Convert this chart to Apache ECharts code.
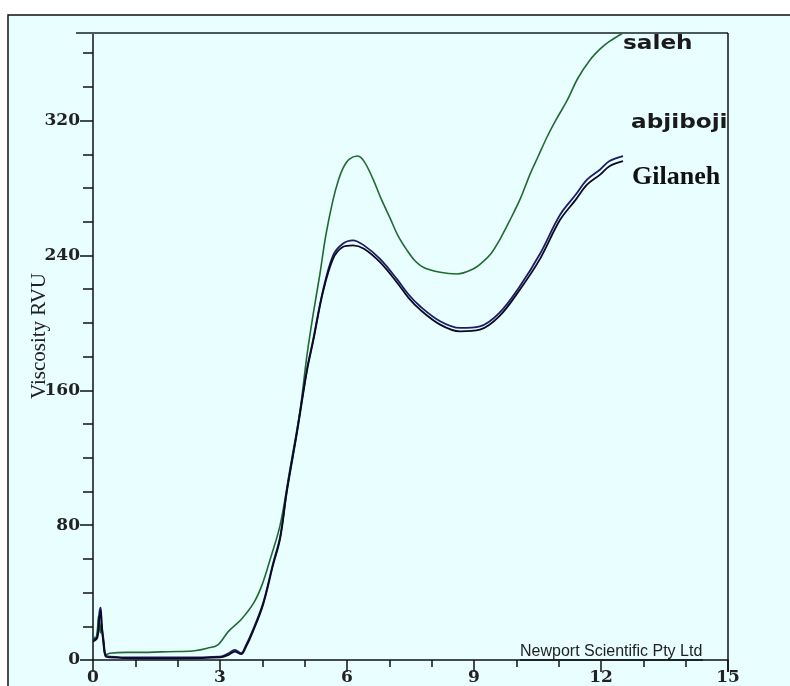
<!DOCTYPE html>
<html><head><meta charset="utf-8">
<script src="https://cdn.jsdelivr.net/npm/echarts@6/dist/echarts.min.js"></script>
<style>html,body{margin:0;padding:0;background:#fff}#c{width:790px;height:686px}</style>
</head><body><div id="c"></div>
<script>
// Time (min) / Viscosity (RVU)
const salehData = [[0,15],[0.05,12],[0.1,17],[0.13,26],[0.17,16],[0.2,22],[0.25,8],[0.3,3],[0.4,4],[0.8,4.5],[1.2,4.5],[1.6,4.8],[2,5],[2.4,5.5],[2.7,7],[2.95,9],[3.2,17],[3.5,24],[3.8,34],[4.0,45],[4.2,61],[4.42,80],[4.65,113],[4.89,148],[5.05,180],[5.2,205],[5.36,229],[5.5,252],[5.67,273],[5.8,285],[5.91,292],[6.05,297],[6.24,299],[6.4,296],[6.62,285],[6.8,274],[7.02,262],[7.2,252],[7.42,243],[7.6,237],[7.8,233],[8.2,230],[8.6,229],[8.98,232],[9.2,236],[9.4,241],[9.6,249],[9.85,261],[10.1,274],[10.32,288],[10.52,299],[10.72,310],[10.95,321],[11.2,332],[11.45,345],[11.74,356],[12.0,363],[12.2,367],[12.52,372]];
const abjibojiData = [[0,12],[0.1,14],[0.15,28],[0.18,31],[0.21,20],[0.25,12],[0.3,3],[0.4,2],[1,1.5],[2,1.5],[3,2],[3.2,4],[3.35,6],[3.5,4],[3.6,8],[3.78,18],[4.02,34],[4.25,57],[4.42,73],[4.58,101],[4.82,136],[5.05,172],[5.2,190],[5.43,219],[5.67,240],[5.9,247],[6.14,249],[6.4,246],[6.78,238],[7.18,226],[7.45,217],[7.72,210],[8.2,201],[8.67,197],[9.14,198],[9.6,206],[10.09,222],[10.56,241],[11.03,264],[11.4,276],[11.67,285],[11.98,291],[12.2,296],[12.52,299]];
const gilanehData = [[0,11],[0.1,13],[0.15,25],[0.18,29],[0.21,18],[0.25,10],[0.3,2],[0.4,1.5],[1,1],[2,1],[3,1.5],[3.2,3],[3.35,5],[3.5,3.5],[3.6,7],[3.78,17],[4.02,33],[4.25,56],[4.42,72],[4.58,100],[4.82,135],[5.05,171],[5.2,189],[5.43,218],[5.67,238],[5.9,245],[6.14,246],[6.4,244],[6.78,236],[7.18,224],[7.45,215],[7.72,208],[8.2,199],[8.67,195],[9.14,196],[9.6,204],[10.09,220],[10.56,238],[11.03,261],[11.4,273],[11.67,282],[11.98,288],[12.2,293],[12.52,296]];
const xMajorTicks = [0,3,6,9,12,15];
const yMajorTicks = [0,80,160,240,320];
const seriesNames = ['saleh','abjiboji','Gilaneh'];

const chart = echarts.init(document.getElementById('c'), null, {renderer:'canvas'});
const tickFont = {fontFamily:'DejaVu Serif', fontWeight:'bold', fontSize:17, color:'#222'};
chart.setOption({
  backgroundColor:'#fff',
  animation:false,
  graphic:[
    {type:'rect', shape:{x:8,y:15,width:790,height:680}, style:{fill:'#E9FEFE', stroke:'#111', lineWidth:1.5}, z:-10},
    {type:'text', x:623, y:44, scaleX:1.22, style:{text:seriesNames[0], x:0, y:0, verticalAlign:'middle', font:'bold 19px "DejaVu Sans"', fill:'#1a1a1a', letterSpacing:1}, z:10},
    {type:'text', x:631, y:123, scaleX:1.22, style:{text:seriesNames[1], x:0, y:0, verticalAlign:'middle', font:'bold 19px "DejaVu Sans"', fill:'#1a1a1a', letterSpacing:1}, z:10},
    {type:'text', x:632, y:177, style:{text:seriesNames[2], x:0, y:0, verticalAlign:'middle', font:'bold 26px "Liberation Serif"', fill:'#111'}, z:10},
    {type:'text', x:520, y:652, style:{text:'Newport Scientific Pty Ltd', x:0, y:0, verticalAlign:'middle', font:'16px "Liberation Sans"', fill:'#222'}, z:10},
    {type:'line', shape:{x1:520,y1:660,x2:703,y2:660}, style:{stroke:'#222', lineWidth:2}, z:10},
    {type:'line', shape:{x1:76,y1:33,x2:728,y2:33}, style:{stroke:'#4a5a5a', lineWidth:2}, z:10},
    {type:'line', shape:{x1:728,y1:33,x2:728,y2:672}, style:{stroke:'#111', lineWidth:1.5}, z:10},
    {type:'text', x:39, y:336, rotation:Math.PI/2,
     style:{text:'Viscosity RVU', x:0, y:0, align:'center', verticalAlign:'middle', font:'21px "Liberation Serif"', fill:'#222'}, z:10}
  ],
  grid:{left:93, right:62, top:33, bottom:26, show:false},
  xAxis:[
    {type:'value', min:0, max:15, interval:3, position:'bottom',
     axisLine:{lineStyle:{color:'#111', width:1.5}},
     axisTick:{length:12, lineStyle:{color:'#111', width:1.5}},
     axisLabel:{...tickFont, margin:9, formatter:v=>xMajorTicks.includes(v)?String(v):''},
     splitLine:{show:false}},
    {type:'value', min:0, max:15, interval:1, position:'bottom',
     axisLine:{show:false},
     axisTick:{length:7, lineStyle:{color:'#111', width:1.5}},
     axisLabel:{show:false}, splitLine:{show:false}}
  ],
  yAxis:[
    {type:'value', min:0, max:372, interval:80, position:'left',
     axisLine:{show:true, lineStyle:{color:'#111', width:1.5}},
     axisTick:{show:true, length:13, lineStyle:{color:'#111', width:1.5}},
     axisLabel:{...tickFont, margin:13, showMaxLabel:false, formatter:v=>yMajorTicks.includes(v)?String(v):''},
     splitLine:{show:false}},
    {type:'value', min:0, max:372, interval:20, position:'left',
     axisLine:{show:false},
     axisTick:{show:true, length:10, lineStyle:{color:'#111', width:1.5}},
     axisLabel:{show:false}, splitLine:{show:false}}
  ],
  series:[
    {name:seriesNames[0], type:'line', data:salehData, smooth:0.35, showSymbol:false, symbol:'none',
     lineStyle:{color:'#1f6b2f', width:1.6}},
    {name:seriesNames[1], type:'line', data:abjibojiData, smooth:0.35, showSymbol:false, symbol:'none',
     lineStyle:{color:'#1c1c6a', width:1.8}},
    {name:seriesNames[2], type:'line', data:gilanehData, smooth:0.35, showSymbol:false, symbol:'none',
     lineStyle:{color:'#0a0a20', width:1.8}}
  ]
});
</script></body></html>
